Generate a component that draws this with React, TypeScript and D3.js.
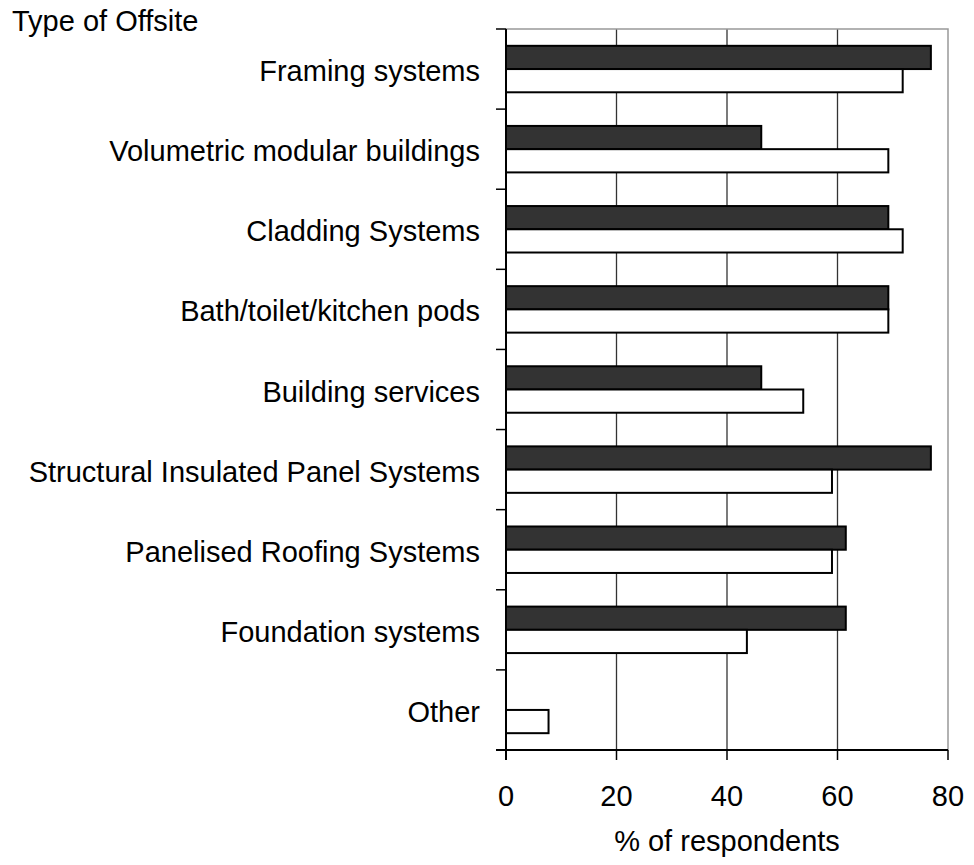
import React, { useEffect, useRef } from 'react';
import * as d3 from 'd3';

const categories = [
  'Framing systems',
  'Volumetric modular buildings',
  'Cladding Systems',
  'Bath/toilet/kitchen pods',
  'Building services',
  'Structural Insulated Panel Systems',
  'Panelised Roofing Systems',
  'Foundation systems',
  'Other',
];

// dark series (top bar of each pair)
const darkValues = [76.9, 46.2, 69.2, 69.2, 46.2, 76.9, 61.5, 61.5, 0];
// white series (bottom bar of each pair)
const whiteValues = [71.8, 69.2, 71.8, 69.2, 53.8, 59.0, 59.0, 43.6, 7.7];

const xTicks = [0, 20, 40, 60, 80];

const App: React.FC = () => {
  const ref = useRef<SVGSVGElement>(null);

  useEffect(() => {
    const svg = d3.select(ref.current);
    svg.selectAll('*').remove();

    const left = 506;
    const right = 948;
    const top = 29;
    const bottom = 750;
    const font = 'Liberation Sans, Arial, sans-serif';
    const fs = 29;

    const x = d3.scaleLinear().domain([0, 80]).range([left, right]);
    const y = d3
      .scaleBand()
      .domain(categories)
      .range([top, bottom])
      .paddingInner(0.42)
      .paddingOuter(0.21);
    const sub = d3.scaleBand().domain(['dark', 'white']).range([0, y.bandwidth()]);

    // gridlines
    svg
      .append('g')
      .selectAll('line')
      .data(xTicks.slice(1, -1))
      .enter()
      .append('line')
      .attr('x1', (d) => x(d))
      .attr('x2', (d) => x(d))
      .attr('y1', top)
      .attr('y2', bottom)
      .attr('stroke', '#333')
      .attr('stroke-width', 1.3);

    // plot border top + right
    svg
      .append('path')
      .attr('d', `M${left},${top}H${right}V${bottom}`)
      .attr('fill', 'none')
      .attr('stroke', '#999')
      .attr('stroke-width', 1.5);

    const rows = categories.map((c, i) => ({ c, dark: darkValues[i], white: whiteValues[i] }));

    const g = svg.append('g');
    rows.forEach((r) => {
      const y0 = y(r.c)!;
      if (r.dark > 0) {
        g.append('rect')
          .attr('x', x(0))
          .attr('y', y0 + sub('dark')!)
          .attr('width', x(r.dark) - x(0))
          .attr('height', sub.bandwidth())
          .attr('fill', '#333')
          .attr('stroke', '#000')
          .attr('stroke-width', 2);
      }
      g.append('rect')
        .attr('x', x(0))
        .attr('y', y0 + sub('white')!)
        .attr('width', x(r.white) - x(0))
        .attr('height', sub.bandwidth())
        .attr('fill', '#fff')
        .attr('stroke', '#000')
        .attr('stroke-width', 2);
    });

    // left axis
    const step = y.step();
    const catTicks = d3.range(categories.length + 1).map((i) => top + i * step);
    svg
      .append('line')
      .attr('x1', left)
      .attr('x2', left)
      .attr('y1', top)
      .attr('y2', bottom + 10)
      .attr('stroke', '#000')
      .attr('stroke-width', 2);
    svg
      .append('g')
      .selectAll('line')
      .data(catTicks)
      .enter()
      .append('line')
      .attr('x1', left - 10)
      .attr('x2', left)
      .attr('y1', (d) => d)
      .attr('y2', (d) => d)
      .attr('stroke', '#000')
      .attr('stroke-width', 1.5);

    svg
      .append('g')
      .selectAll('text')
      .data(categories)
      .enter()
      .append('text')
      .attr('x', 480)
      .attr('y', (d) => y(d)! + y.bandwidth() / 2 + 12)
      .attr('text-anchor', 'end')
      .attr('font-family', font)
      .attr('font-size', fs)
      .attr('fill', '#000')
      .text((d) => d);

    // bottom axis
    svg
      .append('line')
      .attr('x1', left - 10)
      .attr('x2', right)
      .attr('y1', bottom)
      .attr('y2', bottom)
      .attr('stroke', '#000')
      .attr('stroke-width', 2);
    svg
      .append('g')
      .selectAll('line')
      .data(xTicks)
      .enter()
      .append('line')
      .attr('x1', (d) => x(d))
      .attr('x2', (d) => x(d))
      .attr('y1', bottom)
      .attr('y2', bottom + 10)
      .attr('stroke', '#000')
      .attr('stroke-width', 1.5);
    svg
      .append('g')
      .selectAll('text')
      .data(xTicks)
      .enter()
      .append('text')
      .attr('x', (d) => x(d))
      .attr('y', 806)
      .attr('text-anchor', 'middle')
      .attr('font-family', font)
      .attr('font-size', fs)
      .text((d) => d);

    svg
      .append('text')
      .attr('x', (left + right) / 2)
      .attr('y', 851)
      .attr('text-anchor', 'middle')
      .attr('font-family', font)
      .attr('font-size', fs)
      .text('% of respondents');

    svg
      .append('text')
      .attr('x', 12)
      .attr('y', 31)
      .attr('font-family', font)
      .attr('font-size', fs)
      .text('Type of Offsite');
  }, []);

  return (
    <svg
      ref={ref}
      width={974}
      height={865}
      style={{ position: 'absolute', left: 0, top: 0, background: '#fff' }}
    />
  );
};

export default App;
